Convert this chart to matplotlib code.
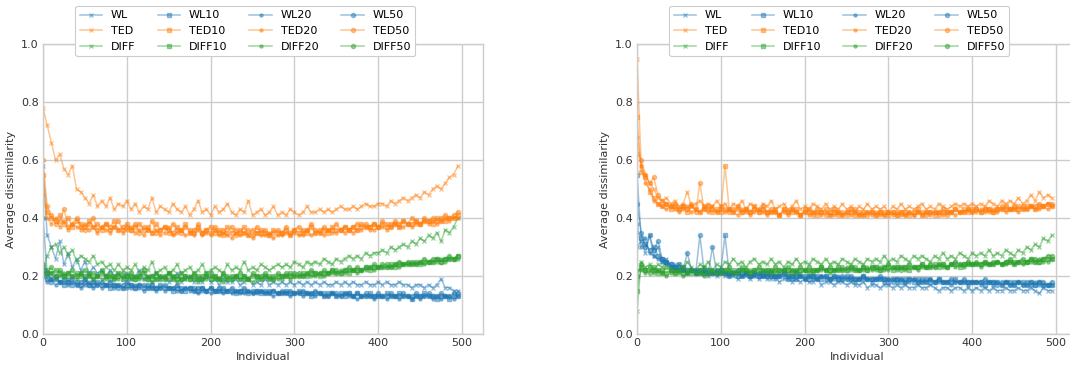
import numpy as np
import matplotlib
matplotlib.use("Agg")
import matplotlib.pyplot as plt

# ---------------- data (sampled every 5 individuals) ----------------
STEP = 5

# Left panel
L_WL = [0.58, 0.34, 0.30, 0.26, 0.32, 0.24, 0.28, 0.23, 0.26, 0.22, 0.25, 0.21, 0.23, 0.21, 0.22, 0.20, 0.22, 0.20, 0.21, 0.19, 0.21,
        0.19, 0.20, 0.22, 0.19, 0.20, 0.18, 0.21, 0.19, 0.20, 0.18, 0.19, 0.21, 0.18, 0.19, 0.20, 0.18, 0.19, 0.18, 0.20, 0.18, 0.19, 0.17, 0.19, 0.18, 0.18, 0.19, 0.17, 0.18, 0.19, 0.17, 0.18, 0.17, 0.19, 0.17, 0.18, 0.17,
        0.18, 0.17, 0.18, 0.17, 0.18, 0.17, 0.18, 0.17, 0.18, 0.17, 0.18, 0.17, 0.17, 0.18, 0.17, 0.18, 0.17, 0.18, 0.17, 0.17, 0.18, 0.17, 0.17, 0.18,
        0.17, 0.18, 0.17, 0.17, 0.18, 0.17, 0.17, 0.16, 0.17, 0.17, 0.16, 0.17, 0.16, 0.17, 0.19, 0.16, 0.16, 0.15, 0.15]
L_WL10 = [0.22, 0.19, 0.18, 0.19, 0.18, 0.17, 0.18, 0.17, 0.18, 0.17, 0.18, 0.17, 0.17, 0.18, 0.17, 0.17, 0.16, 0.17, 0.17, 0.16, 0.17,
          0.17, 0.16, 0.17, 0.16, 0.17, 0.16, 0.16, 0.17, 0.16, 0.16, 0.15, 0.16, 0.16, 0.15, 0.16, 0.16, 0.15, 0.16, 0.15, 0.16, 0.15, 0.15, 0.16, 0.15, 0.15, 0.14, 0.15, 0.15, 0.14, 0.15, 0.15, 0.14, 0.15, 0.14, 0.15, 0.14,
          0.14, 0.15, 0.14, 0.14, 0.15, 0.14, 0.14, 0.13, 0.14, 0.14, 0.13, 0.14, 0.14, 0.13, 0.14, 0.13, 0.14, 0.13, 0.14, 0.13, 0.13, 0.14, 0.13, 0.13,
          0.13, 0.14, 0.13, 0.13, 0.14, 0.13, 0.13, 0.12, 0.13, 0.13, 0.14, 0.13, 0.13, 0.12, 0.13, 0.13, 0.12, 0.13, 0.13]
L_WL20 = [0.20, 0.18, 0.19, 0.17, 0.18, 0.18, 0.17, 0.18, 0.17, 0.16, 0.17, 0.18, 0.16, 0.17, 0.16, 0.17, 0.17, 0.16, 0.17, 0.16, 0.16,
          0.16, 0.17, 0.16, 0.15, 0.16, 0.16, 0.15, 0.16, 0.15, 0.16, 0.16, 0.15, 0.15, 0.16, 0.15, 0.15, 0.14, 0.15, 0.15, 0.14, 0.15, 0.15, 0.14, 0.15, 0.14, 0.15, 0.14, 0.14, 0.15, 0.14, 0.14, 0.15, 0.14, 0.14, 0.13, 0.14,
          0.14, 0.14, 0.13, 0.14, 0.14, 0.13, 0.14, 0.14, 0.13, 0.14, 0.13, 0.13, 0.14, 0.13, 0.13, 0.14, 0.13, 0.13, 0.12, 0.13, 0.13, 0.13, 0.12, 0.13,
          0.13, 0.12, 0.13, 0.13, 0.12, 0.13, 0.13, 0.12, 0.13, 0.12, 0.13, 0.13, 0.12, 0.13, 0.12, 0.13, 0.13, 0.12, 0.13]
L_WL50 = [0.40, 0.21, 0.19, 0.20, 0.18, 0.19, 0.18, 0.19, 0.17, 0.18, 0.19, 0.17, 0.18, 0.17, 0.18, 0.17, 0.18, 0.17, 0.16, 0.17, 0.18,
          0.17, 0.16, 0.17, 0.17, 0.16, 0.17, 0.16, 0.16, 0.17, 0.16, 0.16, 0.17, 0.15, 0.16, 0.16, 0.15, 0.16, 0.16, 0.15, 0.16, 0.15, 0.16, 0.15, 0.15, 0.16, 0.15, 0.15, 0.16, 0.15, 0.14, 0.15, 0.15, 0.14, 0.15, 0.15, 0.14,
          0.15, 0.14, 0.15, 0.14, 0.14, 0.15, 0.14, 0.14, 0.15, 0.14, 0.14, 0.13, 0.14, 0.14, 0.13, 0.14, 0.14, 0.13, 0.14, 0.13, 0.14, 0.13, 0.13, 0.14,
          0.13, 0.13, 0.14, 0.13, 0.13, 0.14, 0.13, 0.13, 0.14, 0.13, 0.13, 0.14, 0.13, 0.13, 0.14, 0.13, 0.13, 0.14, 0.14]
L_TED = [0.78, 0.72, 0.66, 0.60, 0.62, 0.57, 0.55, 0.58, 0.50, 0.49, 0.47, 0.45, 0.48, 0.44, 0.46, 0.44, 0.47, 0.43, 0.45, 0.44, 0.46,
         0.43, 0.45, 0.42, 0.44, 0.43, 0.47, 0.42, 0.44, 0.43, 0.42, 0.45, 0.43, 0.42, 0.44, 0.41, 0.43, 0.46, 0.42, 0.43, 0.41, 0.44, 0.42, 0.43, 0.45, 0.42, 0.41, 0.43, 0.42, 0.46, 0.41, 0.42, 0.43, 0.41, 0.42, 0.44, 0.41,
         0.42, 0.41, 0.43, 0.42, 0.41, 0.42, 0.44, 0.42, 0.42, 0.43, 0.42, 0.43, 0.42, 0.43, 0.44, 0.43, 0.43, 0.44, 0.43, 0.44, 0.45, 0.44, 0.44, 0.45,
         0.45, 0.44, 0.46, 0.45, 0.46, 0.47, 0.46, 0.47, 0.48, 0.47, 0.49, 0.48, 0.50, 0.51, 0.50, 0.52, 0.54, 0.55, 0.58]
L_TED10 = [0.55, 0.42, 0.40, 0.39, 0.41, 0.38, 0.40, 0.37, 0.39, 0.38, 0.37, 0.39, 0.37, 0.38, 0.36, 0.38, 0.37, 0.39, 0.36, 0.37, 0.38,
           0.36, 0.37, 0.38, 0.36, 0.37, 0.35, 0.38, 0.36, 0.37, 0.36, 0.35, 0.37, 0.36, 0.38, 0.35, 0.36, 0.37, 0.35, 0.36, 0.37, 0.35, 0.36, 0.34, 0.37, 0.35, 0.36, 0.35, 0.37, 0.34, 0.36, 0.35, 0.36, 0.35, 0.34, 0.36, 0.35,
           0.35, 0.36, 0.34, 0.36, 0.35, 0.36, 0.35, 0.37, 0.35, 0.36, 0.36, 0.35, 0.37, 0.36, 0.36, 0.37, 0.36, 0.37, 0.36, 0.38, 0.37, 0.37, 0.38, 0.37,
           0.38, 0.37, 0.38, 0.38, 0.37, 0.39, 0.38, 0.38, 0.39, 0.38, 0.39, 0.39, 0.38, 0.40, 0.39, 0.39, 0.40, 0.40, 0.41]
L_TED20 = [0.48, 0.40, 0.38, 0.40, 0.37, 0.39, 0.36, 0.38, 0.37, 0.36, 0.38, 0.36, 0.37, 0.35, 0.37, 0.36, 0.35, 0.37, 0.36, 0.35, 0.36,
           0.37, 0.35, 0.36, 0.34, 0.36, 0.35, 0.36, 0.34, 0.35, 0.37, 0.34, 0.35, 0.36, 0.34, 0.35, 0.34, 0.36, 0.34, 0.35, 0.34, 0.36, 0.34, 0.35, 0.34, 0.33, 0.35, 0.34, 0.35, 0.34, 0.33, 0.35, 0.34, 0.34, 0.35, 0.33, 0.34,
           0.34, 0.35, 0.34, 0.35, 0.34, 0.34, 0.36, 0.34, 0.35, 0.35, 0.34, 0.36, 0.35, 0.35, 0.36, 0.35, 0.36, 0.35, 0.36, 0.36, 0.37, 0.36, 0.36, 0.37,
           0.37, 0.36, 0.37, 0.38, 0.37, 0.37, 0.38, 0.37, 0.38, 0.38, 0.39, 0.38, 0.39, 0.38, 0.39, 0.40, 0.39, 0.40, 0.40]
L_TED50 = [0.60, 0.44, 0.41, 0.38, 0.39, 0.43, 0.37, 0.38, 0.40, 0.37, 0.36, 0.38, 0.40, 0.36, 0.37, 0.38, 0.36, 0.37, 0.39, 0.36, 0.37,
           0.36, 0.38, 0.35, 0.37, 0.36, 0.39, 0.35, 0.36, 0.37, 0.35, 0.38, 0.36, 0.35, 0.37, 0.36, 0.35, 0.38, 0.35, 0.36, 0.35, 0.37, 0.35, 0.36, 0.35, 0.37, 0.34, 0.36, 0.35, 0.36, 0.34, 0.37, 0.35, 0.36, 0.34, 0.35, 0.36,
           0.35, 0.37, 0.35, 0.36, 0.37, 0.35, 0.36, 0.38, 0.36, 0.35, 0.37, 0.36, 0.36, 0.38, 0.36, 0.37, 0.36, 0.37, 0.38, 0.37, 0.38, 0.37, 0.38, 0.37,
           0.39, 0.38, 0.37, 0.39, 0.38, 0.39, 0.38, 0.40, 0.39, 0.38, 0.40, 0.39, 0.40, 0.39, 0.40, 0.41, 0.40, 0.41, 0.42]
L_DIFF = [0.22, 0.27, 0.30, 0.31, 0.28, 0.30, 0.27, 0.29, 0.25, 0.27, 0.26, 0.25, 0.27, 0.24, 0.25, 0.23, 0.24, 0.22, 0.24, 0.22, 0.23,
          0.22, 0.24, 0.21, 0.23, 0.22, 0.25, 0.21, 0.22, 0.23, 0.21, 0.22, 0.24, 0.21, 0.22, 0.23, 0.21, 0.22, 0.24, 0.21, 0.22, 0.23, 0.22, 0.21, 0.24, 0.22, 0.23, 0.22, 0.25, 0.22, 0.23, 0.22, 0.24, 0.23, 0.22, 0.23, 0.24,
          0.23, 0.24, 0.23, 0.25, 0.24, 0.23, 0.25, 0.24, 0.25, 0.24, 0.26, 0.25, 0.24, 0.26, 0.25, 0.26, 0.27, 0.26, 0.27, 0.26, 0.28, 0.27, 0.28, 0.28,
          0.29, 0.28, 0.30, 0.29, 0.30, 0.31, 0.30, 0.32, 0.31, 0.33, 0.32, 0.34, 0.33, 0.35, 0.32, 0.36, 0.35, 0.37, 0.40]
L_DIFF10 = [0.23, 0.22, 0.21, 0.22, 0.21, 0.20, 0.21, 0.20, 0.21, 0.20, 0.20, 0.21, 0.19, 0.20, 0.21, 0.20, 0.19, 0.20, 0.21, 0.19, 0.20,
            0.20, 0.19, 0.20, 0.21, 0.19, 0.20, 0.19, 0.20, 0.19, 0.21, 0.19, 0.20, 0.19, 0.20, 0.19, 0.20, 0.19, 0.20, 0.21, 0.19, 0.20, 0.19, 0.20, 0.19, 0.20, 0.20, 0.19, 0.20, 0.19, 0.20, 0.20, 0.19, 0.20, 0.20, 0.19, 0.20,
            0.20, 0.20, 0.21, 0.20, 0.20, 0.21, 0.20, 0.21, 0.21, 0.20, 0.21, 0.21, 0.22, 0.21, 0.21, 0.22, 0.21, 0.22, 0.22, 0.22, 0.23, 0.22, 0.23, 0.23,
            0.23, 0.23, 0.24, 0.23, 0.24, 0.24, 0.24, 0.24, 0.25, 0.24, 0.25, 0.25, 0.25, 0.26, 0.25, 0.26, 0.26, 0.26, 0.27]
L_DIFF20 = [0.21, 0.20, 0.21, 0.19, 0.20, 0.21, 0.19, 0.20, 0.19, 0.21, 0.19, 0.20, 0.19, 0.20, 0.19, 0.19, 0.20, 0.19, 0.19, 0.20, 0.19,
            0.19, 0.20, 0.19, 0.19, 0.20, 0.18, 0.19, 0.20, 0.19, 0.19, 0.20, 0.18, 0.19, 0.19, 0.20, 0.19, 0.18, 0.19, 0.19, 0.20, 0.19, 0.19, 0.18, 0.19, 0.19, 0.20, 0.19, 0.19, 0.19, 0.18, 0.19, 0.19, 0.20, 0.19, 0.19, 0.19,
            0.19, 0.20, 0.19, 0.20, 0.20, 0.20, 0.21, 0.20, 0.20, 0.21, 0.20, 0.21, 0.21, 0.21, 0.22, 0.21, 0.22, 0.22, 0.21, 0.22, 0.22, 0.23, 0.22, 0.23,
            0.23, 0.23, 0.23, 0.24, 0.23, 0.24, 0.24, 0.24, 0.24, 0.25, 0.24, 0.25, 0.25, 0.25, 0.26, 0.25, 0.26, 0.26, 0.26]
L_DIFF50 = [0.24, 0.21, 0.23, 0.20, 0.22, 0.20, 0.21, 0.22, 0.20, 0.21, 0.22, 0.20, 0.21, 0.20, 0.22, 0.20, 0.21, 0.19, 0.20, 0.21, 0.20,
            0.21, 0.19, 0.20, 0.22, 0.19, 0.20, 0.21, 0.19, 0.20, 0.21, 0.20, 0.19, 0.21, 0.20, 0.19, 0.21, 0.20, 0.19, 0.20, 0.21, 0.20, 0.19, 0.21, 0.20, 0.19, 0.20, 0.21, 0.20, 0.19, 0.21, 0.20, 0.20, 0.21, 0.19, 0.20, 0.21,
            0.20, 0.21, 0.20, 0.21, 0.21, 0.20, 0.21, 0.22, 0.21, 0.21, 0.22, 0.21, 0.22, 0.22, 0.21, 0.22, 0.23, 0.22, 0.23, 0.22, 0.23, 0.23, 0.24, 0.23,
            0.24, 0.24, 0.23, 0.24, 0.25, 0.24, 0.25, 0.25, 0.24, 0.25, 0.26, 0.25, 0.26, 0.26, 0.25, 0.26, 0.27, 0.26, 0.27]

# Right panel
R_WL = [0.30, 0.32, 0.28, 0.34, 0.27, 0.30, 0.25, 0.26, 0.23, 0.24, 0.22, 0.23, 0.21, 0.22, 0.21, 0.22, 0.21, 0.20, 0.21, 0.20, 0.21,
        0.20, 0.21, 0.20, 0.19, 0.20, 0.20, 0.19, 0.20, 0.19, 0.20, 0.19, 0.19, 0.20, 0.18, 0.19, 0.19, 0.18, 0.19, 0.18, 0.19, 0.18, 0.18, 0.19, 0.17, 0.18, 0.18, 0.17, 0.18, 0.18, 0.17, 0.18, 0.17, 0.17, 0.18, 0.16, 0.17,
        0.17, 0.16, 0.17, 0.17, 0.16, 0.17, 0.16, 0.17, 0.16, 0.16, 0.17, 0.16, 0.16, 0.17, 0.16, 0.15, 0.16, 0.16, 0.15, 0.16, 0.16, 0.15, 0.16, 0.15,
        0.16, 0.15, 0.16, 0.15, 0.16, 0.15, 0.15, 0.16, 0.15, 0.15, 0.16, 0.15, 0.15, 0.16, 0.15, 0.14, 0.16, 0.15, 0.15]
R_WL10 = [0.55, 0.33, 0.31, 0.29, 0.30, 0.27, 0.26, 0.25, 0.24, 0.23, 0.22, 0.23, 0.22, 0.22, 0.21, 0.22, 0.21, 0.22, 0.21, 0.21, 0.22,
          0.34, 0.21, 0.21, 0.20, 0.21, 0.21, 0.20, 0.21, 0.20, 0.20, 0.21, 0.20, 0.20, 0.20, 0.21, 0.20, 0.20, 0.19, 0.20, 0.20, 0.19, 0.20, 0.20, 0.19, 0.20, 0.19, 0.20, 0.19, 0.19, 0.20, 0.19, 0.19, 0.19, 0.20, 0.19, 0.19,
          0.19, 0.19, 0.19, 0.18, 0.19, 0.19, 0.18, 0.19, 0.19, 0.18, 0.19, 0.18, 0.19, 0.18, 0.18, 0.19, 0.18, 0.18, 0.18, 0.19, 0.18, 0.18, 0.18, 0.18,
          0.18, 0.18, 0.17, 0.18, 0.18, 0.18, 0.17, 0.18, 0.18, 0.17, 0.18, 0.18, 0.17, 0.18, 0.17, 0.18, 0.17, 0.17, 0.17]
R_WL20 = [0.38, 0.30, 0.33, 0.28, 0.27, 0.26, 0.25, 0.24, 0.23, 0.22, 0.23, 0.22, 0.21, 0.22, 0.22, 0.21, 0.22, 0.21, 0.21, 0.22, 0.21,
          0.21, 0.20, 0.21, 0.21, 0.20, 0.21, 0.20, 0.20, 0.21, 0.20, 0.20, 0.20, 0.19, 0.20, 0.20, 0.20, 0.19, 0.20, 0.20, 0.19, 0.20, 0.19, 0.19, 0.20, 0.19, 0.19, 0.19, 0.20, 0.19, 0.19, 0.19, 0.18, 0.19, 0.19, 0.19, 0.18,
          0.19, 0.19, 0.18, 0.19, 0.19, 0.18, 0.19, 0.18, 0.18, 0.19, 0.18, 0.18, 0.18, 0.19, 0.18, 0.18, 0.18, 0.18, 0.17, 0.18, 0.18, 0.18, 0.17, 0.18,
          0.18, 0.17, 0.18, 0.18, 0.17, 0.18, 0.17, 0.18, 0.17, 0.17, 0.18, 0.17, 0.17, 0.17, 0.18, 0.17, 0.17, 0.17, 0.17]
R_WL50 = [0.45, 0.35, 0.30, 0.34, 0.29, 0.32, 0.26, 0.25, 0.24, 0.23, 0.24, 0.22, 0.28, 0.22, 0.21, 0.34, 0.22, 0.21, 0.30, 0.21, 0.22,
          0.21, 0.20, 0.21, 0.22, 0.20, 0.21, 0.20, 0.21, 0.20, 0.21, 0.20, 0.21, 0.20, 0.20, 0.21, 0.19, 0.20, 0.21, 0.20, 0.19, 0.20, 0.20, 0.19, 0.20, 0.20, 0.19, 0.20, 0.19, 0.20, 0.19, 0.20, 0.19, 0.19, 0.20, 0.19, 0.19,
          0.19, 0.20, 0.19, 0.19, 0.18, 0.19, 0.19, 0.18, 0.19, 0.19, 0.18, 0.19, 0.18, 0.19, 0.18, 0.19, 0.18, 0.18, 0.19, 0.18, 0.18, 0.19, 0.18, 0.18,
          0.18, 0.18, 0.19, 0.18, 0.18, 0.17, 0.18, 0.18, 0.17, 0.18, 0.18, 0.17, 0.18, 0.18, 0.17, 0.18, 0.18, 0.17, 0.18]
R_TED = [0.95, 0.58, 0.55, 0.52, 0.50, 0.47, 0.46, 0.47, 0.45, 0.46, 0.44, 0.45, 0.49, 0.44, 0.45, 0.46, 0.44, 0.45, 0.44, 0.46, 0.44,
         0.45, 0.43, 0.45, 0.44, 0.46, 0.43, 0.45, 0.44, 0.43, 0.45, 0.44, 0.46, 0.43, 0.44, 0.45, 0.43, 0.44, 0.46, 0.43, 0.44, 0.43, 0.45, 0.44, 0.43, 0.45, 0.43, 0.44, 0.43, 0.45, 0.43, 0.44, 0.42, 0.44, 0.43, 0.45, 0.43,
         0.44, 0.43, 0.44, 0.42, 0.44, 0.43, 0.45, 0.43, 0.44, 0.43, 0.44, 0.45, 0.43, 0.44, 0.43, 0.45, 0.44, 0.43, 0.44, 0.45, 0.44, 0.45, 0.44, 0.45,
         0.44, 0.45, 0.44, 0.46, 0.45, 0.44, 0.46, 0.45, 0.46, 0.45, 0.47, 0.45, 0.46, 0.48, 0.46, 0.49, 0.47, 0.48, 0.47]
R_TED10 = [0.75, 0.56, 0.54, 0.49, 0.47, 0.45, 0.44, 0.45, 0.43, 0.44, 0.43, 0.44, 0.42, 0.44, 0.43, 0.42, 0.44, 0.43, 0.42, 0.43, 0.42,
           0.58, 0.43, 0.42, 0.43, 0.42, 0.43, 0.42, 0.44, 0.42, 0.43, 0.42, 0.42, 0.43, 0.41, 0.43, 0.42, 0.42, 0.43, 0.41, 0.42, 0.43, 0.42, 0.41, 0.42, 0.43, 0.41, 0.42, 0.42, 0.41, 0.42, 0.43, 0.41, 0.42, 0.41, 0.42, 0.42,
           0.41, 0.42, 0.42, 0.41, 0.42, 0.41, 0.42, 0.42, 0.41, 0.42, 0.43, 0.41, 0.42, 0.42, 0.41, 0.42, 0.43, 0.42, 0.42, 0.43, 0.42, 0.43, 0.42, 0.43,
           0.43, 0.42, 0.43, 0.43, 0.42, 0.43, 0.43, 0.44, 0.43, 0.43, 0.44, 0.43, 0.44, 0.44, 0.43, 0.44, 0.44, 0.45, 0.44]
R_TED20 = [0.68, 0.58, 0.52, 0.50, 0.46, 0.45, 0.44, 0.43, 0.44, 0.43, 0.42, 0.43, 0.44, 0.42, 0.43, 0.42, 0.43, 0.42, 0.44, 0.42, 0.43,
           0.42, 0.43, 0.42, 0.41, 0.43, 0.42, 0.41, 0.42, 0.43, 0.42, 0.41, 0.42, 0.42, 0.41, 0.42, 0.41, 0.43, 0.42, 0.41, 0.42, 0.41, 0.42, 0.42, 0.41, 0.42, 0.41, 0.41, 0.42, 0.41, 0.42, 0.41, 0.42, 0.41, 0.41, 0.42, 0.41,
           0.42, 0.41, 0.41, 0.42, 0.41, 0.42, 0.41, 0.41, 0.42, 0.41, 0.42, 0.41, 0.42, 0.41, 0.42, 0.42, 0.41, 0.42, 0.42, 0.41, 0.42, 0.42, 0.43, 0.42,
           0.42, 0.43, 0.42, 0.42, 0.43, 0.42, 0.43, 0.42, 0.43, 0.43, 0.42, 0.43, 0.43, 0.44, 0.43, 0.43, 0.44, 0.43, 0.44]
R_TED50 = [0.62, 0.60, 0.55, 0.52, 0.54, 0.48, 0.46, 0.45, 0.44, 0.45, 0.43, 0.44, 0.43, 0.45, 0.42, 0.52, 0.43, 0.44, 0.43, 0.42, 0.44,
           0.43, 0.42, 0.43, 0.44, 0.42, 0.43, 0.42, 0.43, 0.42, 0.44, 0.42, 0.43, 0.42, 0.41, 0.43, 0.42, 0.43, 0.42, 0.41, 0.43, 0.42, 0.41, 0.43, 0.42, 0.41, 0.42, 0.43, 0.41, 0.42, 0.41, 0.42, 0.43, 0.41, 0.42, 0.41, 0.42,
           0.41, 0.42, 0.41, 0.42, 0.42, 0.41, 0.42, 0.41, 0.42, 0.41, 0.42, 0.42, 0.41, 0.42, 0.42, 0.41, 0.42, 0.41, 0.42, 0.43, 0.42, 0.42, 0.43, 0.42,
           0.43, 0.42, 0.43, 0.43, 0.42, 0.43, 0.44, 0.43, 0.43, 0.44, 0.43, 0.44, 0.43, 0.44, 0.44, 0.45, 0.44, 0.45, 0.45]
R_DIFF = [0.08, 0.25, 0.23, 0.24, 0.22, 0.24, 0.23, 0.25, 0.22, 0.23, 0.24, 0.22, 0.25, 0.23, 0.22, 0.24, 0.23, 0.25, 0.22, 0.24, 0.23,
          0.25, 0.24, 0.26, 0.24, 0.25, 0.23, 0.25, 0.26, 0.24, 0.25, 0.24, 0.26, 0.24, 0.25, 0.23, 0.25, 0.24, 0.26, 0.24, 0.25, 0.24, 0.26, 0.25, 0.24, 0.26, 0.24, 0.25, 0.24, 0.26, 0.25, 0.24, 0.26, 0.25, 0.24, 0.26, 0.25,
          0.26, 0.25, 0.27, 0.25, 0.26, 0.25, 0.27, 0.26, 0.25, 0.27, 0.26, 0.27, 0.26, 0.25, 0.27, 0.26, 0.28, 0.26, 0.27, 0.26, 0.28, 0.27, 0.26, 0.28,
          0.27, 0.28, 0.27, 0.29, 0.27, 0.28, 0.27, 0.29, 0.28, 0.27, 0.29, 0.28, 0.30, 0.29, 0.31, 0.30, 0.33, 0.32, 0.34]
R_DIFF10 = [0.15, 0.23, 0.22, 0.23, 0.22, 0.21, 0.22, 0.21, 0.22, 0.21, 0.22, 0.21, 0.22, 0.21, 0.22, 0.21, 0.21, 0.22, 0.21, 0.22, 0.21,
            0.22, 0.21, 0.22, 0.21, 0.22, 0.22, 0.21, 0.22, 0.22, 0.21, 0.22, 0.22, 0.21, 0.22, 0.22, 0.22, 0.21, 0.22, 0.22, 0.22, 0.21, 0.22, 0.22, 0.23, 0.22, 0.22, 0.22, 0.23, 0.22, 0.22, 0.23, 0.22, 0.22, 0.23, 0.22, 0.23,
            0.23, 0.22, 0.23, 0.23, 0.22, 0.23, 0.23, 0.23, 0.22, 0.23, 0.23, 0.24, 0.23, 0.23, 0.24, 0.23, 0.24, 0.23, 0.24, 0.24, 0.23, 0.24, 0.24, 0.24,
            0.24, 0.24, 0.25, 0.24, 0.24, 0.25, 0.24, 0.25, 0.25, 0.24, 0.25, 0.25, 0.25, 0.26, 0.25, 0.25, 0.26, 0.26, 0.26]
R_DIFF20 = [0.22, 0.22, 0.21, 0.22, 0.21, 0.22, 0.21, 0.20, 0.21, 0.22, 0.21, 0.20, 0.21, 0.22, 0.21, 0.21, 0.20, 0.21, 0.22, 0.21, 0.21,
            0.21, 0.22, 0.21, 0.21, 0.22, 0.21, 0.22, 0.21, 0.21, 0.22, 0.21, 0.22, 0.22, 0.21, 0.22, 0.21, 0.22, 0.22, 0.21, 0.22, 0.22, 0.21, 0.22, 0.22, 0.22, 0.21, 0.22, 0.22, 0.22, 0.23, 0.22, 0.22, 0.22, 0.22, 0.23, 0.22,
            0.22, 0.23, 0.22, 0.22, 0.23, 0.22, 0.23, 0.22, 0.23, 0.23, 0.22, 0.23, 0.23, 0.23, 0.23, 0.24, 0.23, 0.23, 0.24, 0.23, 0.24, 0.23, 0.24, 0.24,
            0.24, 0.23, 0.24, 0.24, 0.24, 0.25, 0.24, 0.24, 0.25, 0.24, 0.25, 0.24, 0.25, 0.25, 0.25, 0.26, 0.25, 0.25, 0.26]
R_DIFF50 = [0.20, 0.24, 0.22, 0.21, 0.23, 0.22, 0.21, 0.23, 0.22, 0.21, 0.22, 0.23, 0.21, 0.22, 0.21, 0.22, 0.23, 0.21, 0.22, 0.21, 0.22,
            0.22, 0.23, 0.21, 0.22, 0.23, 0.22, 0.21, 0.22, 0.23, 0.22, 0.22, 0.21, 0.23, 0.22, 0.22, 0.23, 0.22, 0.21, 0.23, 0.22, 0.23, 0.22, 0.22, 0.23, 0.22, 0.23, 0.22, 0.22, 0.23, 0.22, 0.23, 0.23, 0.22, 0.23, 0.22, 0.23,
            0.23, 0.22, 0.23, 0.24, 0.23, 0.23, 0.22, 0.23, 0.24, 0.23, 0.23, 0.24, 0.23, 0.24, 0.23, 0.24, 0.24, 0.23, 0.24, 0.25, 0.24, 0.24, 0.25, 0.24,
            0.25, 0.24, 0.25, 0.24, 0.25, 0.25, 0.24, 0.25, 0.26, 0.25, 0.25, 0.26, 0.25, 0.26, 0.26, 0.25, 0.26, 0.27, 0.27]

LABELS = ["WL", "TED", "DIFF", "WL10", "TED10", "DIFF10",
          "WL20", "TED20", "DIFF20", "WL50", "TED50", "DIFF50"]
LEFT = [L_WL, L_TED, L_DIFF, L_WL10, L_TED10, L_DIFF10,
        L_WL20, L_TED20, L_DIFF20, L_WL50, L_TED50, L_DIFF50]
RIGHT = [R_WL, R_TED, R_DIFF, R_WL10, R_TED10, R_DIFF10,
         R_WL20, R_TED20, R_DIFF20, R_WL50, R_TED50, R_DIFF50]
X_TICKS = [0, 100, 200, 300, 400, 500]
Y_TICKS = [0.0, 0.2, 0.4, 0.6, 0.8, 1.0]

# ---------------- style ----------------
COLORS = ["#1f77b4", "#ff7f0e", "#2ca02c"]
MARKERS = ["x", "s", ".", "o"]
MSIZES = [3.5, 3, 4.5, 3]
FS = 8

plt.rcParams["font.family"] = ["DejaVu Sans"]
fig = plt.figure(figsize=(10.70, 3.67), dpi=100)
ax1 = fig.add_axes([43 / 1070, 1 - 334 / 367, 440 / 1070, 290 / 367])
ax2 = fig.add_axes([637 / 1070, 1 - 334 / 367, 440 / 1070, 290 / 367])

for ax, series in ((ax1, LEFT), (ax2, RIGHT)):
    ax.set_facecolor("white")
    for k, (lab, y) in enumerate(zip(LABELS, series)):
        c = COLORS[k % 3]
        m = MARKERS[k // 3]
        x = np.arange(len(y)) * STEP
        ax.plot(x, y, color=c, marker=m, markersize=MSIZES[k // 3],
                linewidth=1.1, alpha=0.45, label=lab)
    ax.set_xlim(0, 525)
    ax.set_ylim(0, 1.0)
    ax.set_xticks(X_TICKS)
    ax.set_yticks(Y_TICKS)
    ax.set_yticklabels([f"{v:.1f}" for v in Y_TICKS])
    ax.grid(True, color="#cccccc", linewidth=1.0)
    ax.set_axisbelow(True)
    for s in ax.spines.values():
        s.set_color("#cccccc")
        s.set_linewidth(1.0)
    ax.tick_params(length=0, labelsize=FS, colors="#333333", pad=3)
    ax.set_xlabel("Individual", fontsize=FS, color="#333333", labelpad=3)
    ax.set_ylabel("Average dissimilarity", fontsize=FS, color="#333333", labelpad=4)
    leg = ax.legend(loc="upper center", bbox_to_anchor=(0.46, 1.131), ncol=4,
                    fontsize=FS, frameon=True, fancybox=True, framealpha=1.0,
                    edgecolor="#cccccc", borderaxespad=0.0)
    leg.get_frame().set_linewidth(0.8)
    leg.set_zorder(10)

fig.savefig("out.png", dpi=100, facecolor="white")
